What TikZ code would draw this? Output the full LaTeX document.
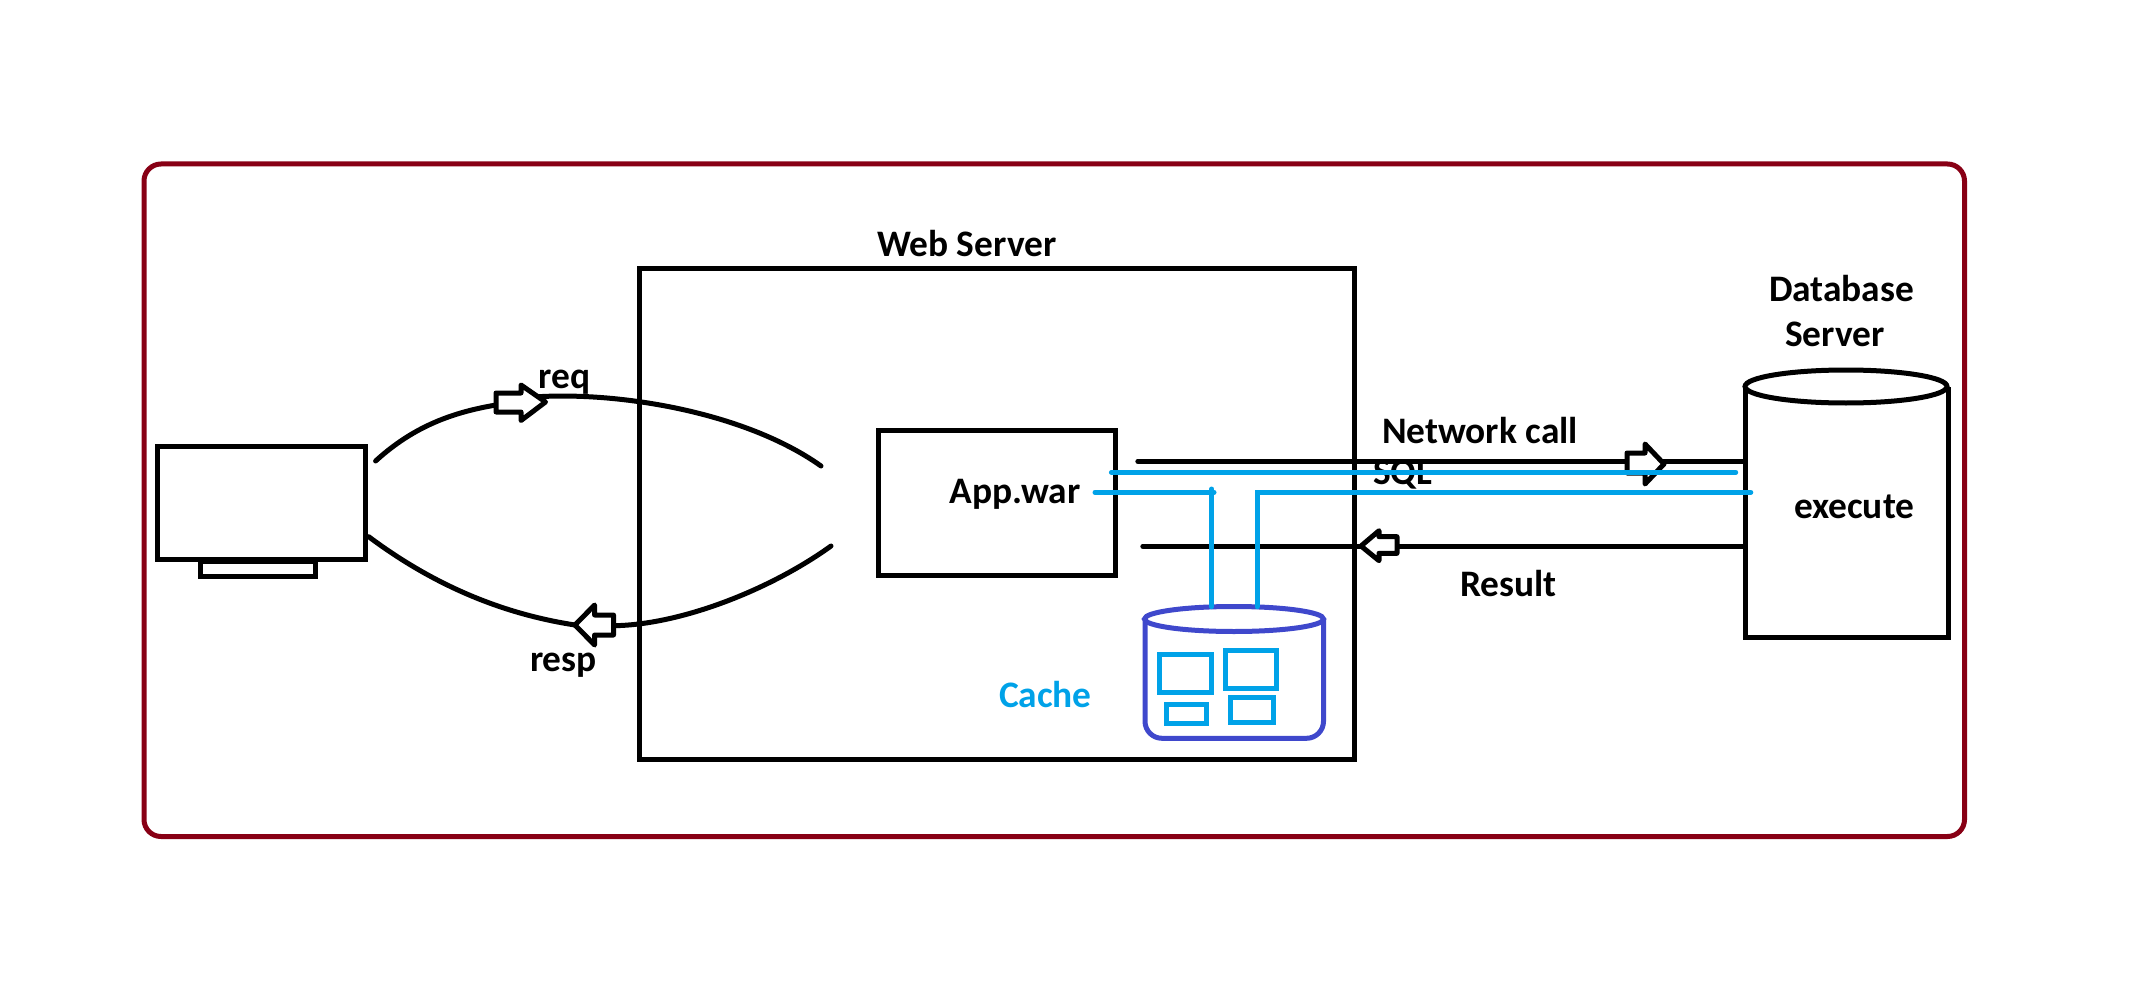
\documentclass[tikz,border=0pt]{standalone}
\usepackage{fontspec}
\setmainfont{Carlito}
\definecolor{frame}{HTML}{880015}
\definecolor{sky}{HTML}{00A2E8}
\definecolor{indigo}{HTML}{3F48CC}
\tikzset{
  lbl/.style={anchor=base west,inner sep=0pt,outer sep=0pt,font=\fontsize{37.4}{37.4}\selectfont\bfseries,yshift=-1.5pt},
  blk/.style={draw=black,line width=5pt},
  curve/.style={draw=black,line width=5pt,line cap=round},
  hollow/.style={draw=black,fill=white,line width=5pt,line join=round},
  sky line/.style={draw=sky,line width=5pt,line cap=round},
  sky box/.style={draw=sky,line width=5pt}
}
\begin{document}
\begin{tikzpicture}[x=1pt,y=-1pt]
\useasboundingbox (0,0) rectangle (2130,992);
% frame
\draw[draw=frame,line width=5pt,rounded corners=17pt] (144,164) rectangle (1964.5,836.5);
% labels lying under the lines
\node[lbl] (sql) at (1373,482.7) {SQL};
% monitor
\draw[blk] (200,561) rectangle (315,576);
\draw[blk] (157.5,446) rectangle (365.5,559);
\coordinate (monA) at (375.6,461);
\coordinate (monB) at (368.7,536.7);
% web server
\draw[blk] (639.6,269) rectangle (1354.4,759);
\node[lbl] (web) at (877,255) {Web Server};
% app
\draw[blk] (878,430) rectangle (1115.6,575.7);
\node[lbl] (app) at (949.5,501.7) {App.war};
% curves
\coordinate (reqA) at (496,405);
\coordinate (reqB) at (538.6,396.7);
\coordinate (reqC) at (821,466);
\coordinate (respA) at (575,625);
\coordinate (respB) at (613.5,625.7);
\coordinate (respC) at (831,546);
\draw[curve] (monA) .. controls (415,425) and (455,412) .. (reqA);
\draw[curve] (reqB) .. controls (620,392) and (745,412) .. (reqC);
\draw[curve] (monB) .. controls (440,590) and (510,615) .. (respA);
\draw[curve] (respB) .. controls (680,625) and (770,590) .. (respC);
\draw[hollow] (496,393) -- (521,393) -- (521,385) -- (545.5,402) -- (521,420.5) -- (521,412) -- (496,412) -- cycle;
\draw[hollow] (575,625) -- (594.6,605) -- (594.6,615) -- (613.5,615) -- (613.5,635) -- (594.6,635) -- (594.6,645) -- cycle;
\node[lbl] (req) at (538.6,386.7) {req};
\node[lbl] (resp) at (530,670) {resp};
% database
\draw[blk] (1745.6,386.5) -- (1745.6,637) -- (1948,637) -- (1948,386.5);
\draw[blk,fill=white] (1846,386.5) ellipse [x radius=101,y radius=16.5];
\node[lbl] (dbA) at (1769,300) {Database};
\node[lbl] (dbB) at (1785,345) {Server};
\node[lbl] (exec) at (1794,516.7) {execute};
% network lines
\coordinate (callA) at (1137.8,461.3);
\coordinate (callB) at (1743,461.3);
\coordinate (resA) at (1142.8,546.3);
\coordinate (resB) at (1743,546.3);
\draw[curve] (callA) -- (callB);
\draw[curve] (resA) -- (resB);
\draw[hollow] (1627,453) -- (1645,453) -- (1645,444) -- (1664,464) -- (1645,484) -- (1645,473) -- (1627,473) -- cycle;
\draw[hollow] (1361,546) -- (1379,530.7) -- (1379,536.7) -- (1397,536.7) -- (1397,553.3) -- (1379,553.3) -- (1379,560.7) -- cycle;
\node[lbl] (call) at (1382,441.7) {Network call};
\node[lbl] (result) at (1460,595) {Result};
% cache
\node[lbl,text=sky] (cache) at (999,706) {Cache};
\draw[draw=indigo,line width=5pt,rounded corners=17pt] (1145,619) -- (1145,738.3) -- (1323.5,738.3) -- (1323.5,619);
\draw[draw=indigo,line width=5pt,fill=white] (1234,619) ellipse [x radius=89.5,y radius=12.5];
\draw[sky box] (1159,654) rectangle (1211.6,692.7);
\draw[sky box] (1225.4,650.3) rectangle (1276,688.3);
\draw[sky box] (1166.5,704) rectangle (1206,723.7);
\draw[sky box] (1230.4,697) rectangle (1273.7,722.7);
% blue lines
\coordinate (upA) at (1111.4,472.3);
\coordinate (upB) at (1735.7,472.3);
\coordinate (loA) at (1095,492.3);
\coordinate (loB) at (1214,492.3);
\coordinate (loC) at (1211.6,606.7);
\coordinate (loD) at (1211.6,489);
\coordinate (loE) at (1257,606.7);
\coordinate (loF) at (1257,492.3);
\coordinate (loG) at (1750.8,492.3);
\draw[sky line] (upA) -- (upB);
\draw[sky line] (loA) -- (loB);
\draw[sky line] (loD) -- (loC);
\draw[sky line] (loE) -- (loF) -- (loG);
\end{tikzpicture}
\end{document}
